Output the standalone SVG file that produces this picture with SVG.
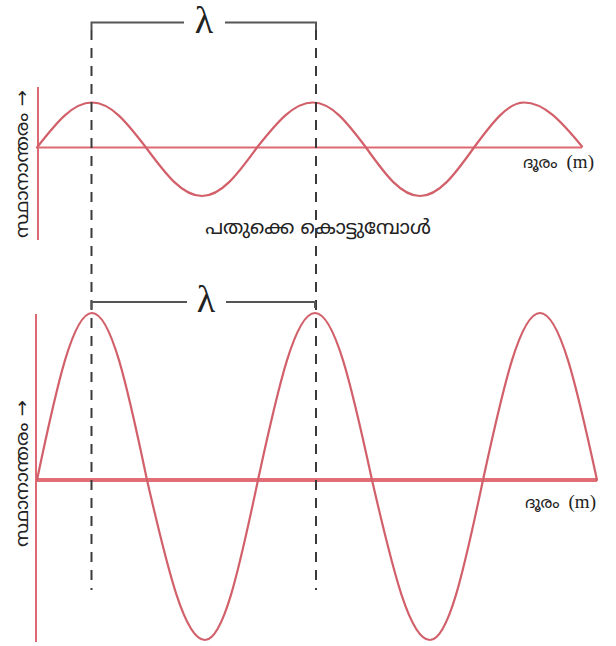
<svg xmlns="http://www.w3.org/2000/svg" width="616" height="646" viewBox="0 0 616 646">
<style>
.wave{fill:none;stroke:#d2606a;stroke-width:2.2;stroke-linecap:round}
.axis{fill:none;stroke:#dd6a73;stroke-width:2}
.axis2{fill:none;stroke:#e06e76;stroke-width:4}
.dash{fill:none;stroke:#3a3a3a;stroke-width:2;stroke-dasharray:10 8}
.brk{fill:none;stroke:#555;stroke-width:2}
.lam{font-family:"Liberation Serif",serif;font-size:38px;fill:#222;text-anchor:middle}
.ml{font-family:"Noto Sans Malayalam","Noto Sans","DejaVu Sans",sans-serif;fill:#222}
.srf{font-family:"Liberation Serif",serif}
</style>
<rect width="616" height="646" fill="#fff"/>
<g id="top-graph">
<path class="axis" d="M38,87 V240"/>
<path class="axis" d="M37,147.5 H582"/>
<path class="wave" d="M37,147.5 C57,121.8 73,102.5 92,102.5 C110.7,102.5 126.3,121.8 146,147.5 C166.4,175.2 182.6,196 202,196 C221,196 237,175.2 257,147.5 C277.4,121.8 293.6,102.5 313,102.5 C331.3,102.5 346.7,121.8 366,147.5 C385.7,175.2 401.3,196 420,196 C438.7,196 454.3,175.2 474,147.5 C492.9,121.8 508,102.5 524,102.5 C544,102.5 561,121 582,146.5"/>
<text class="ml" transform="translate(28,238) rotate(-90)" font-size="18" textLength="148" lengthAdjust="spacingAndGlyphs">സ്ഥാനാന്തരം →</text>
<text class="ml" x="523" y="168" font-size="16">ദൂരം <tspan class="srf" font-size="19" dx="4">(m)</tspan></text>
<text class="ml" x="318" y="234" font-size="20" text-anchor="middle">പതുക്കെ കൊട്ടുമ്പോൾ</text>
</g>
<g id="bottom-graph">
<path class="axis" d="M36,314 V642"/>
<path class="axis2" d="M37,480 H597"/>
<path class="wave" stroke-width="2.6" d="M37,480 C57,384.5 73,313 92,313 C111,313 127,384.5 147,480 C168.1,571.5 184.9,640 205,640 C223.3,640 238.7,571.5 258,480 C278.7,384.5 295.3,313 315,313 C334.7,313 351.3,384.5 372,480 C393.1,571.5 409.9,640 430,640 C448.3,640 463.7,571.5 483,480 C503.7,384.5 520.3,313 540,313 C559.7,313 576.3,384.5 597,480"/>
<text class="ml" transform="translate(28,547) rotate(-90)" font-size="18" textLength="147" lengthAdjust="spacingAndGlyphs">സ്ഥാനാന്തരം →</text>
<text class="ml" x="525" y="508" font-size="16">ദൂരം <tspan class="srf" font-size="19" dx="4">(m)</tspan></text>
</g>
<g id="connectors">
<path class="dash" d="M91.5,30 V590"/>
<path class="dash" d="M316,30 V590"/>
<path class="brk" d="M91.5,30 V22.5 H184 M225,22.5 H316 V30"/>
<text class="lam" x="204" y="33">λ</text>
<path class="brk" d="M91.5,309 V302 H187 M226,302 H315 V308"/>
<text class="lam" x="206" y="312">λ</text>
</g>
</svg>
